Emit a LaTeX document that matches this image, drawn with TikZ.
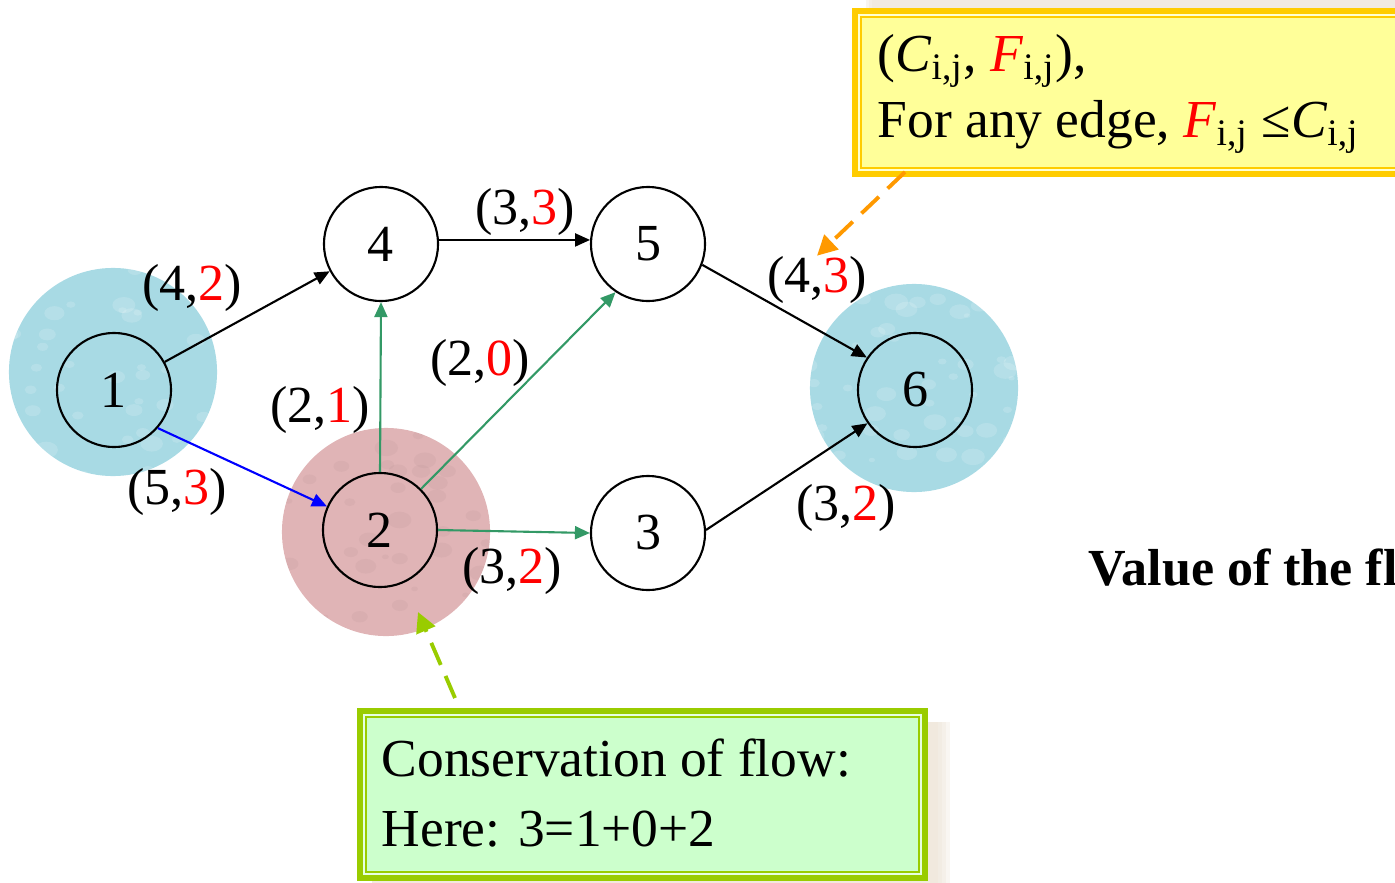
\documentclass[tikz,border=0pt]{standalone}
\usepackage{fontspec}
\setmainfont{Liberation Serif}
\usetikzlibrary{arrows.meta,positioning,calc}
\definecolor{edgegreen}{RGB}{51,153,102}
\definecolor{dropblue}{RGB}{168,218,228}
\definecolor{dustpink}{RGB}{224,180,182}
\definecolor{boxgold}{RGB}{255,204,0}
\definecolor{boxyellow}{RGB}{255,255,153}
\definecolor{paleyellow}{RGB}{255,255,210}
\definecolor{boxlime}{RGB}{153,204,0}
\definecolor{boxmint}{RGB}{204,255,204}
\definecolor{palemint}{RGB}{230,255,225}
\definecolor{shadowbeige}{RGB}{236,226,212}
\definecolor{noteorange}{RGB}{255,153,0}
\newcommand{\capflow}[2]{(#1,\textcolor{red}{#2})}
\newcommand{\idx}{\textsubscript{i,j}}
% speckled disc behind a node: centre, colour, speck colour, speck opacity
\newcommand{\speckdisc}[4]{%
  \fill[#2] #1 circle (1.04cm);
  \begin{scope}
    \clip #1 circle (1.04cm);
    \foreach \k in {1,...,45}{
      \pgfmathsetmacro{\px}{rnd*220-110}
      \pgfmathsetmacro{\py}{rnd*220-110}
      \pgfmathsetmacro{\ra}{0.03+rnd*0.09}
      \pgfmathsetmacro{\rb}{0.7*\ra}
      \fill[#3,opacity=#4] ($#1+(\px,\py)$) ellipse ({\ra cm} and {\rb cm});
    }
  \end{scope}}
\tikzset{
  vertex/.style={circle,draw,line width=0.6pt,minimum size=1.14cm,inner sep=0pt,
    font=\fontsize{14.8}{17}\selectfont},
  flowlabel/.style={inner sep=0pt,font=\fontsize{14.8}{17}\selectfont},
  notetext/.style={anchor=base west,inner sep=0pt,font=\fontsize{15.2}{17}\selectfont},
  arc/.style={-{Triangle[length=0.15cm,width=0.13cm]},line width=0.6pt},
  hint/.style={dash pattern=on 0.24cm off 0.12cm,line width=1.1pt,
    -{Triangle[length=0.2cm,width=0.2cm]}},
}
\begin{document}
\begin{tikzpicture}[x=0.01cm,y=-0.01cm]
  \useasboundingbox (0,0) rectangle (1395,882);
  \clip (0,0) rectangle (1395,882);
  \pgfmathsetseed{11}
  % backdrops behind source, sink and node 2
  \speckdisc{(113,372)}{dropblue}{white}{0.16}
  \speckdisc{(914,388)}{dropblue}{white}{0.16}
  \speckdisc{(386,532)}{dustpink}{black!40!dustpink}{0.07}

  \node[vertex] (n1) at (114,390) {1};
  \node[vertex] (n4) at (381,244) {4};
  \node[vertex] (n5) at (648,244) {5};
  \node[vertex] (n2) at (380,530) {2};
  \node[vertex] (n3) at (648,533) {3};
  \node[vertex] (n6) at (915,390) {6};

  \draw[arc] (n1.29) -- (n4.208);
  \draw[arc,blue] (n1.-41) -- (n2.156);
  \draw[arc,edgegreen] (n2.north) -- (n4.south);
  \draw[arc,edgegreen] (n2.45) -- (n5.236);
  \draw[arc,edgegreen] (n2.east) -- (n3.west);
  \draw[arc] (n4.4) -- (n5.176);
  \draw[arc] (n5.-21) -- (n6.146);
  \draw[arc] (n3.3) -- (n6.215);

  \node[flowlabel] (f14) at (192,288) {\capflow{4}{2}};
  \node[flowlabel] (f12) at (177,492) {\capflow{5}{3}};
  \node[flowlabel] (f24) at (320,410) {\capflow{2}{1}};
  \node[flowlabel] (f25) at (480,363) {\capflow{2}{0}};
  \node[flowlabel] (f45) at (525,212) {\capflow{3}{3}};
  \node[flowlabel] (f23) at (512,571) {\capflow{3}{2}};
  \node[flowlabel] (f56) at (817,280) {\capflow{4}{3}};
  \node[flowlabel] (f36) at (846,508) {\capflow{3}{2}};

  % capacity note
  \foreach \g in {0,3,6}
    \fill[shadowbeige,opacity=0.35] (866+\g,-6+\g) rectangle (1420,160);
  \fill[boxyellow] (852,8) rectangle (1420,177);
  \draw[boxgold,line width=0.06cm] (855,11) rectangle (1420,174);
  \draw[paleyellow,line width=0.02cm] (859,15) rectangle (1420,170);
  \draw[boxgold,line width=0.02cm] (861,17) rectangle (1420,168);
  \node[notetext] (cap1) at (877,72)
    {(\textit{C}\idx, \textcolor{red}{\textit{F}}\idx),};
  \node[notetext] (cap2) at (877,138)
    {For any edge, \textcolor{red}{\textit{F}}\idx{} ≤\textit{C}\idx};
  \coordinate (capfoot) at (905,172);
  \draw[hint,noteorange] (capfoot) -- (f56.north);

  % conservation note
  \foreach \g in {0,4,8,12}
    \fill[shadowbeige,opacity=0.3] (372,722) rectangle (938+\g,900);
  \fill[boxmint] (357,708) rectangle (928,881);
  \draw[boxlime,line width=0.06cm] (360,711) rectangle (925,878);
  \draw[palemint,line width=0.02cm] (364,715) rectangle (921,874);
  \draw[boxlime,line width=0.02cm] (366,717) rectangle (919,872);
  \node[notetext] (cons1) at (381,776) {Conservation of flow:};
  \node[notetext] (cons2) at (381,846) {Here: 3=1+0+2};
  \coordinate (consfoot) at (455,698);
  \coordinate (pinkrim) at (418,612);
  \draw[hint,boxlime] (consfoot) -- (pinkrim);

  \node[notetext,font=\fontsize{14.8}{17}\selectfont\bfseries] (value) at (1088,585)
    {Value of the flow};
\end{tikzpicture}
\end{document}
